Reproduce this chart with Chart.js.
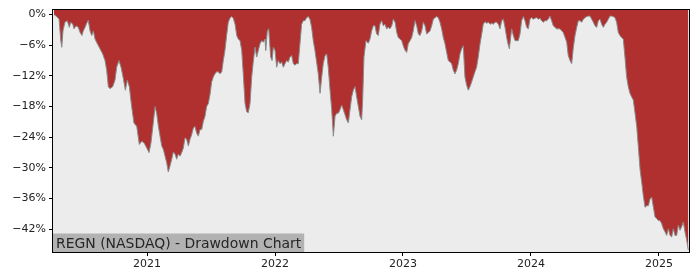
<!DOCTYPE html>
<html>
<head>
<meta charset="utf-8">
<script src="https://cdn.jsdelivr.net/npm/chart.js@4/dist/chart.umd.min.js"></script>
<style>
  html, body { margin: 0; padding: 0; background: #ffffff; }
  #wrap { width: 700px; height: 280px; position: relative; }
</style>
</head>
<body>
<div id="wrap"><canvas id="c" width="700" height="280"></canvas></div>
<script>
const chartTitle = "REGN (NASDAQ) - Drawdown Chart";
const xTickYears = [2021, 2022, 2023, 2024, 2025];
const yTickValues = [-42, -36, -30, -24, -18, -12, -6, 0];

// dates as decimal years
const dateYears = [
2020.273,2020.295,2020.313,2020.326,2020.334,2020.344,2020.359,2020.377,2020.393,2020.404,
2020.420,2020.430,2020.445,2020.463,2020.477,2020.492,2020.502,2020.516,2020.529,2020.541,
2020.555,2020.568,2020.581,2020.594,2020.612,2020.633,2020.654,2020.672,2020.685,2020.698,
2020.711,2020.732,2020.750,2020.763,2020.781,2020.797,2020.815,2020.831,2020.846,2020.862,
2020.880,2020.898,2020.920,2020.940,2020.959,2020.977,2020.998,2021.016,2021.031,2021.049,
2021.063,2021.076,2021.089,2021.102,2021.115,2021.128,2021.141,2021.154,2021.166,2021.180,
2021.193,2021.206,2021.219,2021.232,2021.245,2021.258,2021.271,2021.284,2021.297,2021.310,
2021.323,2021.336,2021.349,2021.362,2021.375,2021.388,2021.401,2021.414,2021.427,2021.440,
2021.453,2021.466,2021.479,2021.492,2021.505,2021.518,2021.531,2021.544,2021.557,2021.570,
2021.584,2021.596,2021.609,2021.622,2021.635,2021.648,2021.662,2021.674,2021.688,2021.701,
2021.713,2021.727,2021.740,2021.752,2021.766,2021.779,2021.791,2021.805,2021.818,2021.830,
2021.844,2021.857,2021.870,2021.883,2021.896,2021.909,2021.922,2021.927,2021.940,2021.951,
2021.966,2021.977,2021.987,2022.000,2022.013,2022.026,2022.039,2022.052,2022.065,2022.078,
2022.091,2022.104,2022.117,2022.130,2022.143,2022.156,2022.169,2022.182,2022.195,2022.208,
2022.221,2022.234,2022.247,2022.260,2022.273,2022.286,2022.299,2022.312,2022.325,2022.338,
2022.352,2022.365,2022.377,2022.391,2022.404,2022.416,2022.430,2022.443,2022.456,2022.469,
2022.482,2022.495,2022.508,2022.521,2022.534,2022.547,2022.560,2022.573,2022.586,2022.599,
2022.612,2022.625,2022.638,2022.651,2022.664,2022.677,2022.685,2022.695,2022.711,2022.729,
2022.742,2022.755,2022.768,2022.781,2022.794,2022.807,2022.820,2022.833,2022.846,2022.859,
2022.872,2022.885,2022.898,2022.912,2022.924,2022.938,2022.951,2022.963,2022.977,2022.990,
2023.002,2023.016,2023.029,2023.041,2023.055,2023.068,2023.080,2023.094,2023.107,2023.120,
2023.133,2023.146,2023.159,2023.172,2023.185,2023.198,2023.211,2023.224,2023.237,2023.250,
2023.263,2023.276,2023.289,2023.302,2023.315,2023.328,2023.341,2023.354,2023.367,2023.380,
2023.393,2023.406,2023.419,2023.432,2023.445,2023.458,2023.471,2023.484,2023.497,2023.510,
2023.523,2023.536,2023.549,2023.562,2023.575,2023.588,2023.602,2023.615,2023.627,2023.641,
2023.654,2023.667,2023.680,2023.693,2023.706,2023.719,2023.732,2023.745,2023.758,2023.771,
2023.784,2023.797,2023.810,2023.820,2023.831,2023.841,2023.849,2023.862,2023.875,2023.888,
2023.901,2023.914,2023.927,2023.940,2023.953,2023.966,2023.979,2023.992,2024.005,2024.018,
2024.031,2024.044,2024.057,2024.070,2024.083,2024.096,2024.109,2024.122,2024.135,2024.148,
2024.161,2024.174,2024.187,2024.200,2024.213,2024.227,2024.240,2024.252,2024.266,2024.279,
2024.291,2024.305,2024.318,2024.331,2024.344,2024.357,2024.370,2024.383,2024.396,2024.409,
2024.422,2024.435,2024.448,2024.461,2024.474,2024.487,2024.500,2024.513,2024.526,2024.539,
2024.552,2024.565,2024.578,2024.591,2024.604,2024.617,2024.630,2024.643,2024.656,2024.669,
2024.682,2024.695,2024.708,2024.721,2024.734,2024.747,2024.760,2024.773,2024.786,2024.799,
2024.813,2024.826,2024.838,2024.852,2024.865,2024.877,2024.891,2024.904,2024.917,2024.930,
2024.943,2024.956,2024.969,2024.982,2024.995,2025.008,2025.021,2025.034,2025.047,2025.060,
2025.073,2025.086,2025.099,2025.112,2025.125,2025.138,2025.151,2025.164,2025.177,2025.190,
2025.203,2025.216,2025.229
];

// drawdown in percent
const drawdownPct = [
0.0,-0.4,-0.9,-5.0,-6.4,-3.1,-1.5,-1.2,-2.5,-1.5,
-1.9,-2.8,-2.2,-2.5,-3.5,-4.1,-3.2,-2.5,-1.7,-1.1,
-3.2,-4.1,-3.2,-4.8,-5.7,-6.7,-7.7,-9.0,-10.9,-14.1,
-14.5,-14.1,-12.8,-10.3,-9.0,-10.3,-12.5,-14.8,-12.8,-14.1,
-18.0,-21.2,-21.9,-25.4,-24.8,-25.1,-26.1,-27.0,-25.1,-21.2,
-18.0,-19.4,-21.9,-23.8,-25.7,-26.4,-27.7,-29.0,-30.8,-29.6,
-28.3,-26.9,-27.3,-28.3,-27.3,-27.7,-27.0,-26.1,-24.1,-24.4,
-25.7,-24.4,-23.5,-22.2,-21.9,-23.2,-23.8,-22.5,-22.5,-20.9,
-19.9,-18.0,-17.4,-15.7,-13.2,-12.2,-11.6,-11.2,-11.2,-11.6,
-11.2,-9.0,-7.0,-4.1,-1.5,-0.7,-0.4,-0.7,-1.9,-4.1,
-4.8,-5.1,-7.0,-11.6,-17.4,-19.0,-19.2,-17.4,-12.2,-9.3,
-6.4,-8.3,-7.0,-5.7,-5.1,-5.4,-4.8,-7.0,-3.2,-2.8,
-8.3,-9.0,-6.4,-7.0,-10.3,-9.0,-9.6,-9.3,-10.3,-9.6,
-9.0,-9.3,-8.3,-8.0,-9.6,-9.9,-9.6,-9.6,-5.7,-1.9,
-1.2,-1.2,-0.6,-0.4,-0.9,-2.5,-5.1,-7.0,-9.3,-11.6,
-15.4,-12.2,-9.6,-8.0,-7.7,-10.3,-14.8,-18.6,-23.8,-19.9,
-19.3,-19.3,-18.6,-17.7,-18.6,-19.6,-20.6,-21.2,-18.6,-16.1,
-14.8,-14.1,-16.1,-18.0,-19.9,-20.6,-16.6,-8.3,-5.1,-5.6,
-4.8,-3.2,-2.2,-2.2,-3.8,-4.1,-1.9,-1.2,-2.2,-1.9,
-2.8,-2.5,-2.8,-2.2,-0.9,-1.5,-3.5,-4.5,-4.8,-5.1,
-6.1,-7.0,-7.4,-5.7,-5.1,-4.5,-3.2,-1.2,-2.2,-3.8,
-4.1,-3.2,-1.5,-2.2,-3.8,-3.5,-3.2,-2.2,-0.9,-0.6,
-0.4,-0.6,-1.5,-2.8,-4.5,-5.7,-7.4,-9.0,-9.3,-9.6,
-10.9,-11.6,-10.9,-9.6,-7.7,-6.7,-6.1,-12.2,-13.8,-14.8,
-14.1,-13.2,-12.2,-11.2,-10.3,-8.3,-5.7,-3.8,-1.9,-1.4,
-1.7,-1.5,-1.9,-1.7,-1.9,-1.5,-1.5,-1.9,-2.8,-1.2,
-0.9,-2.5,-4.5,-5.7,-6.7,-4.5,-2.8,-4.1,-5.1,-5.1,
-5.1,-3.8,-1.2,-0.4,-1.2,-2.5,-2.8,-0.9,-0.6,-0.9,
-0.7,-0.6,-0.9,-0.7,-1.2,-1.5,-1.2,-1.2,-0.9,-0.3,
-1.2,-2.2,-2.5,-2.8,-2.8,-2.8,-3.2,-3.5,-4.5,-5.4,
-8.0,-9.0,-9.6,-6.4,-4.1,-2.5,-1.2,-1.2,-1.5,-0.9,
-0.6,-0.4,-0.3,-0.3,-0.9,-1.5,-2.2,-2.5,-1.2,-0.9,
-1.9,-2.5,-1.9,-1.5,-0.9,-0.3,-0.3,-0.4,-0.6,-1.5,
-3.5,-4.1,-4.5,-4.8,-8.3,-12.2,-14.1,-15.4,-16.1,-16.7,
-19.3,-21.9,-25.7,-30.3,-32.8,-35.4,-37.7,-37.4,-37.4,-36.1,
-35.7,-37.7,-39.6,-39.9,-40.3,-40.3,-40.9,-41.9,-42.5,-43.2,
-41.9,-43.2,-43.5,-41.9,-43.2,-43.2,-41.2,-42.2,-41.5,-40.6,
-42.5,-44.1,-46.1
];

const points = dateYears.map((x, i) => ({ x: x, y: drawdownPct[i] }));

const bgPlugin = {
  id: 'bgPlugin',
  beforeDraw(chart) {
    const { ctx, chartArea: a } = chart;
    ctx.save();
    ctx.fillStyle = '#ececec';
    ctx.fillRect(a.left, a.top, a.right - a.left, a.bottom - a.top);
    ctx.restore();
  },
  afterDraw(chart) {
    const { ctx, chartArea: a } = chart;
    ctx.save();
    // frame
    ctx.strokeStyle = '#000000';
    ctx.lineWidth = 1;
    ctx.strokeRect(Math.round(a.left) - 0.5, Math.round(a.top) - 0.5,
                   Math.round(a.right - a.left) + 1, Math.round(a.bottom - a.top) + 1);
    // title label box
    ctx.font = '13.95px "DejaVu Sans"';
    const w = ctx.measureText(chartTitle).width;
    const boxH = 18.5;
    ctx.fillStyle = '#b2b2b2';
    ctx.fillRect(a.left, a.bottom - boxH, w + 6, boxH);
    ctx.fillStyle = '#262626';
    ctx.textBaseline = 'alphabetic';
    ctx.textAlign = 'left';
    ctx.fillText(chartTitle, a.left + 3, a.bottom - 4.5);
    ctx.restore();
  }
};

new Chart(document.getElementById('c'), {
  type: 'line',
  data: {
    datasets: [{
      data: points,
      borderColor: '#8a8a8a',
      borderWidth: 1,
      backgroundColor: '#b03030',
      fill: 'end',
      pointRadius: 0,
      tension: 0
    }]
  },
  options: {
    responsive: false,
    animation: false,
    devicePixelRatio: 1,
    layout: { padding: { left: 0, top: 7, right: 11, bottom: 0 } },
    plugins: { legend: { display: false }, tooltip: { enabled: false } },
    scales: {
      x: {
        type: 'linear',
        min: 2020.2656,
        max: 2025.2344,
        afterFit(scale) { scale.height = 28; },
        afterBuildTicks(scale) { scale.ticks = xTickYears.map(v => ({ value: v })); },
        grid: { drawOnChartArea: false, drawTicks: true, tickLength: 4, color: '#000000', tickColor: '#000000' },
        border: { display: false },
        ticks: {
          color: '#222222',
          font: { family: 'DejaVu Sans', size: 11 },
          padding: 2,
          maxRotation: 0,
          autoSkip: false,
          callback: v => String(v)
        }
      },
      y: {
        type: 'linear',
        min: -46.45,
        max: 0.97,
        afterFit(scale) { scale.width = 53; },
        afterBuildTicks(scale) { scale.ticks = yTickValues.map(v => ({ value: v })); },
        grid: { drawOnChartArea: false, drawTicks: true, tickLength: 4, color: '#000000', tickColor: '#000000' },
        border: { display: false },
        ticks: {
          color: '#222222',
          font: { family: 'DejaVu Sans', size: 11 },
          padding: 3,
          autoSkip: false,
          callback: v => (v < 0 ? '\u2212' + Math.abs(v) : String(v)) + '%'
        }
      }
    }
  },
  plugins: [bgPlugin]
});
</script>
</body>
</html>
